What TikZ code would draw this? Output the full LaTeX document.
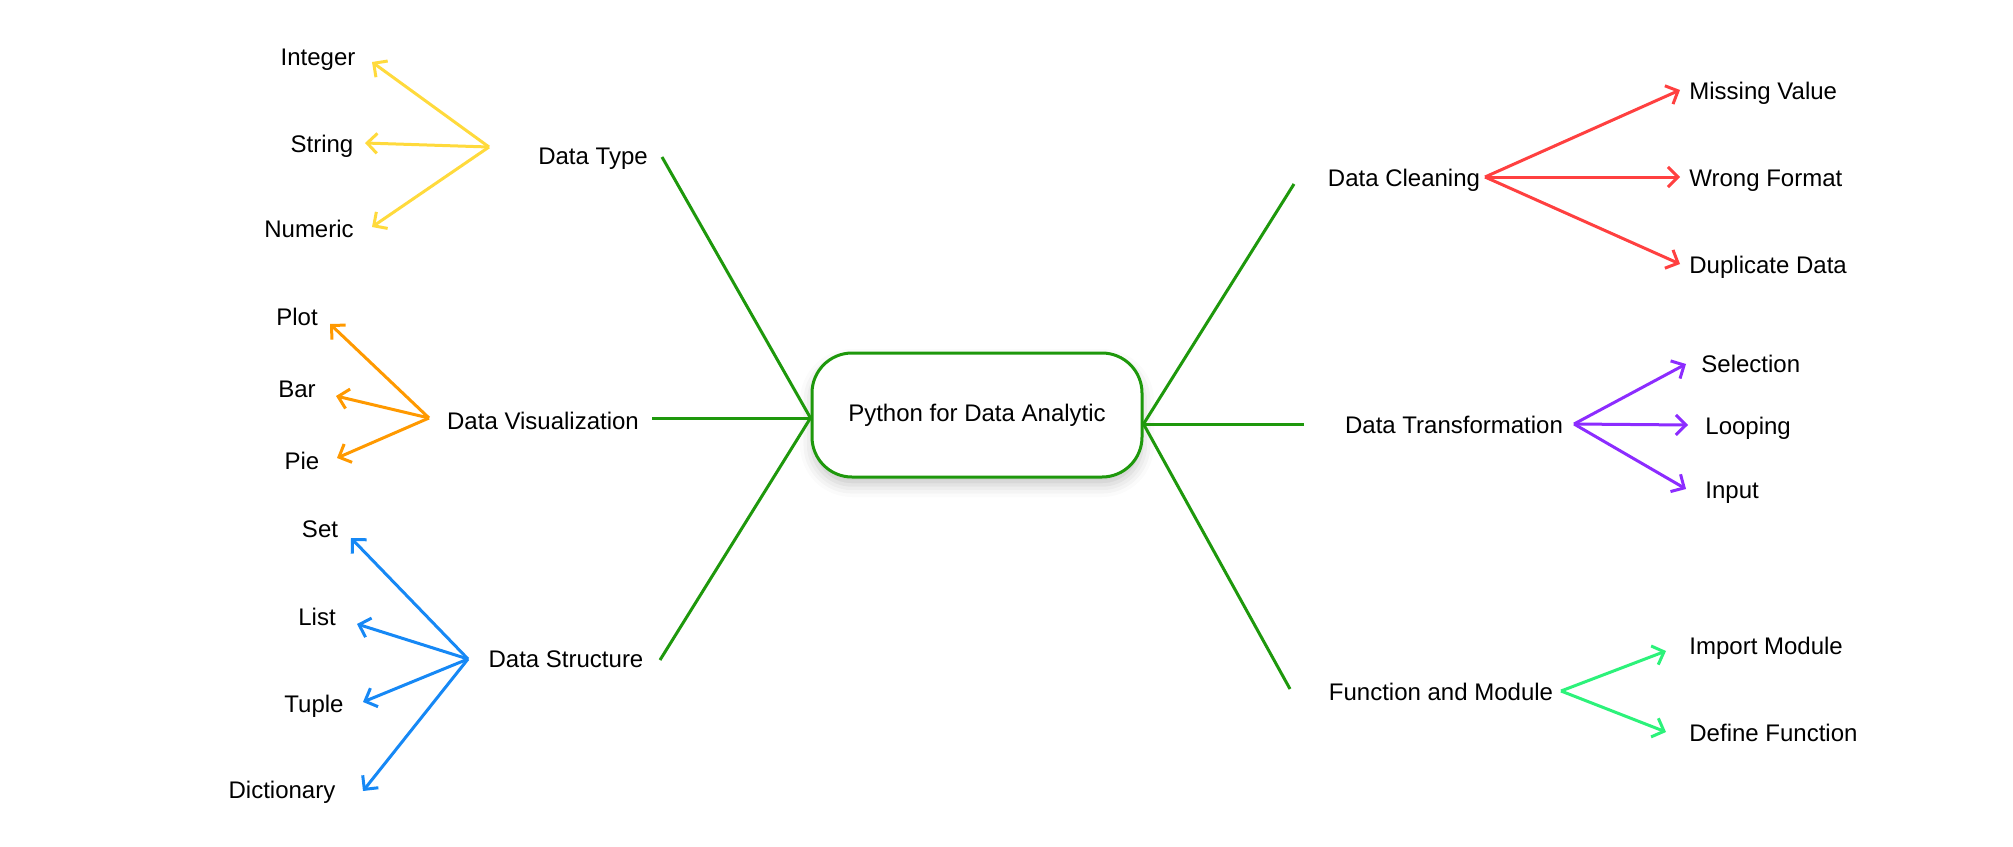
\documentclass[tikz,border=0pt]{standalone}
\usepackage{fontspec}
\setmainfont{Liberation Sans}
\usetikzlibrary{arrows.meta,shadows.blur}

\definecolor{stemgreen}{RGB}{30,152,12}
\definecolor{typeyellow}{RGB}{255,218,60}
\definecolor{vizorange}{RGB}{255,153,0}
\definecolor{structblue}{RGB}{22,136,245}
\definecolor{cleanred}{RGB}{255,64,64}
\definecolor{transpurple}{RGB}{140,44,255}
\definecolor{funcmint}{RGB}{44,242,122}

\begin{document}
\begin{tikzpicture}[x=0.5pt,y=-0.5pt,
    font=\fontsize{12}{14}\selectfont,
    stem/.style={draw=stemgreen,line width=1.5pt},
    fan/.style={draw=#1,line width=1.5pt,-{Straight Barb[length=5pt,width=10pt]}},
    leaf/.style={inner sep=0pt,text height=8.6pt,text depth=0pt},
    topic/.style={inner sep=0pt,text height=8.6pt,text depth=0pt}
]
    \useasboundingbox (0,0) rectangle (2013,846);

    % centre
    \node [draw=stemgreen,line width=1.5pt,rounded corners=20pt,fill=white,
           minimum width=165pt,minimum height=62pt,
           blur shadow={shadow xshift=0pt,shadow yshift=-4pt,shadow blur radius=6pt,shadow opacity=22}]
        (root) at (977,415) {Python for Data Analytic};

    % main topics
    \node [topic] (type)   at (593,156)  {Data Type};
    \node [topic] (viz)    at (543,421)  {Data Visualization};
    \node [topic] (struct) at (566,659)  {Data Structure};
    \node [topic] (clean)  at (1404,178) {Data Cleaning};
    \node [topic] (trans)  at (1454,425) {Data Transformation};
    \node [topic] (func)   at (1441,692) {Function and Module};

    \coordinate (type end)   at (662,157);
    \coordinate (viz end)    at (652,418);
    \coordinate (struct end) at (660,660);
    \coordinate (clean end)  at (1294,184);
    \coordinate (trans end)  at (1304,424);
    \coordinate (func end)   at (1290,689);

    \draw [stem] (type end) -- ([yshift=-1.5pt]root.west);
    \draw [stem] (viz end) -- ([yshift=-1.5pt]root.west);
    \draw [stem] (struct end) -- ([yshift=-1.5pt]root.west);
    \draw [stem] (clean end) -- ([yshift=-4.5pt]root.east);
    \draw [stem] (trans end) -- ([yshift=-4.5pt]root.east);
    \draw [stem] (func end) -- ([yshift=-4.5pt]root.east);

    % Data Type
    \coordinate (type fan) at (489,147);
    \node [leaf] (integer) at (318,57)  {Integer};
    \node [leaf] (string)  at (322,144) {String};
    \node [leaf] (numeric) at (309,229) {Numeric};
    \coordinate (integer tip) at (372,62);
    \coordinate (string tip)  at (365,143);
    \coordinate (numeric tip) at (372,227);
    \draw [fan=typeyellow] (type fan) -- (integer tip);
    \draw [fan=typeyellow] (type fan) -- (string tip);
    \draw [fan=typeyellow] (type fan) -- (numeric tip);

    % Data Visualization
    \coordinate (viz fan) at (429,418);
    \node [leaf] (plot) at (297,317) {Plot};
    \node [leaf] (bar)  at (297,389) {Bar};
    \node [leaf] (pie)  at (302,461) {Pie};
    \coordinate (plot tip) at (330,324);
    \coordinate (bar tip)  at (336,396);
    \coordinate (pie tip)  at (337,458);
    \draw [fan=vizorange] (viz fan) -- (plot tip);
    \draw [fan=vizorange] (viz fan) -- (bar tip);
    \draw [fan=vizorange] (viz fan) -- (pie tip);

    % Data Structure
    \coordinate (struct fan) at (468,659);
    \node [leaf] (set)   at (320,529) {Set};
    \node [leaf] (list)  at (317,617) {List};
    \node [leaf] (tuple) at (314,704) {Tuple};
    \node [leaf] (dict)  at (282,790) {Dictionary};
    \coordinate (set tip)   at (351,538);
    \coordinate (list tip)  at (357,624);
    \coordinate (tuple tip) at (363,702);
    \coordinate (dict tip)  at (363,791);
    \draw [fan=structblue] (struct fan) -- (set tip);
    \draw [fan=structblue] (struct fan) -- (list tip);
    \draw [fan=structblue] (struct fan) -- (tuple tip);
    \draw [fan=structblue] (struct fan) -- (dict tip);

    % Data Cleaning
    \coordinate (clean fan) at (1485,177);
    \node [leaf,anchor=west] (missing)   at (1689,91)  {Missing Value};
    \node [leaf,anchor=west] (wrong)     at (1689,178) {Wrong Format};
    \node [leaf,anchor=west] (duplicate) at (1689,265) {Duplicate Data};
    \draw [fan=cleanred] (clean fan) -- ([xshift=-4.5pt,yshift=0.5pt]missing.west);
    \draw [fan=cleanred] (clean fan) -- ([xshift=-4.5pt,yshift=0.5pt]wrong.west);
    \draw [fan=cleanred] (clean fan) -- ([xshift=-4.5pt,yshift=0.5pt]duplicate.west);

    % Data Transformation
    \coordinate (trans fan) at (1574,424);
    \node [leaf,anchor=west] (selection) at (1701,364) {Selection};
    \node [leaf,anchor=west] (looping)   at (1705,426) {Looping};
    \node [leaf,anchor=west] (input)     at (1705,490) {Input};
    \draw [fan=transpurple] (trans fan) -- ([xshift=-7.5pt]selection.west);
    \draw [fan=transpurple] (trans fan) -- ([xshift=-8.5pt,yshift=0.5pt]looping.west);
    \draw [fan=transpurple] (trans fan) -- ([xshift=-9.5pt,yshift=0.5pt]input.west);

    % Function and Module
    \coordinate (func fan) at (1561,691);
    \node [leaf,anchor=west] (import) at (1689,646) {Import Module};
    \node [leaf,anchor=west] (define) at (1689,733) {Define Function};
    \draw [fan=funcmint] (func fan) -- ([xshift=-11.5pt,yshift=-2.5pt]import.west);
    \draw [fan=funcmint] (func fan) -- ([xshift=-11.5pt,yshift=0.5pt]define.west);

\end{tikzpicture}
\end{document}
